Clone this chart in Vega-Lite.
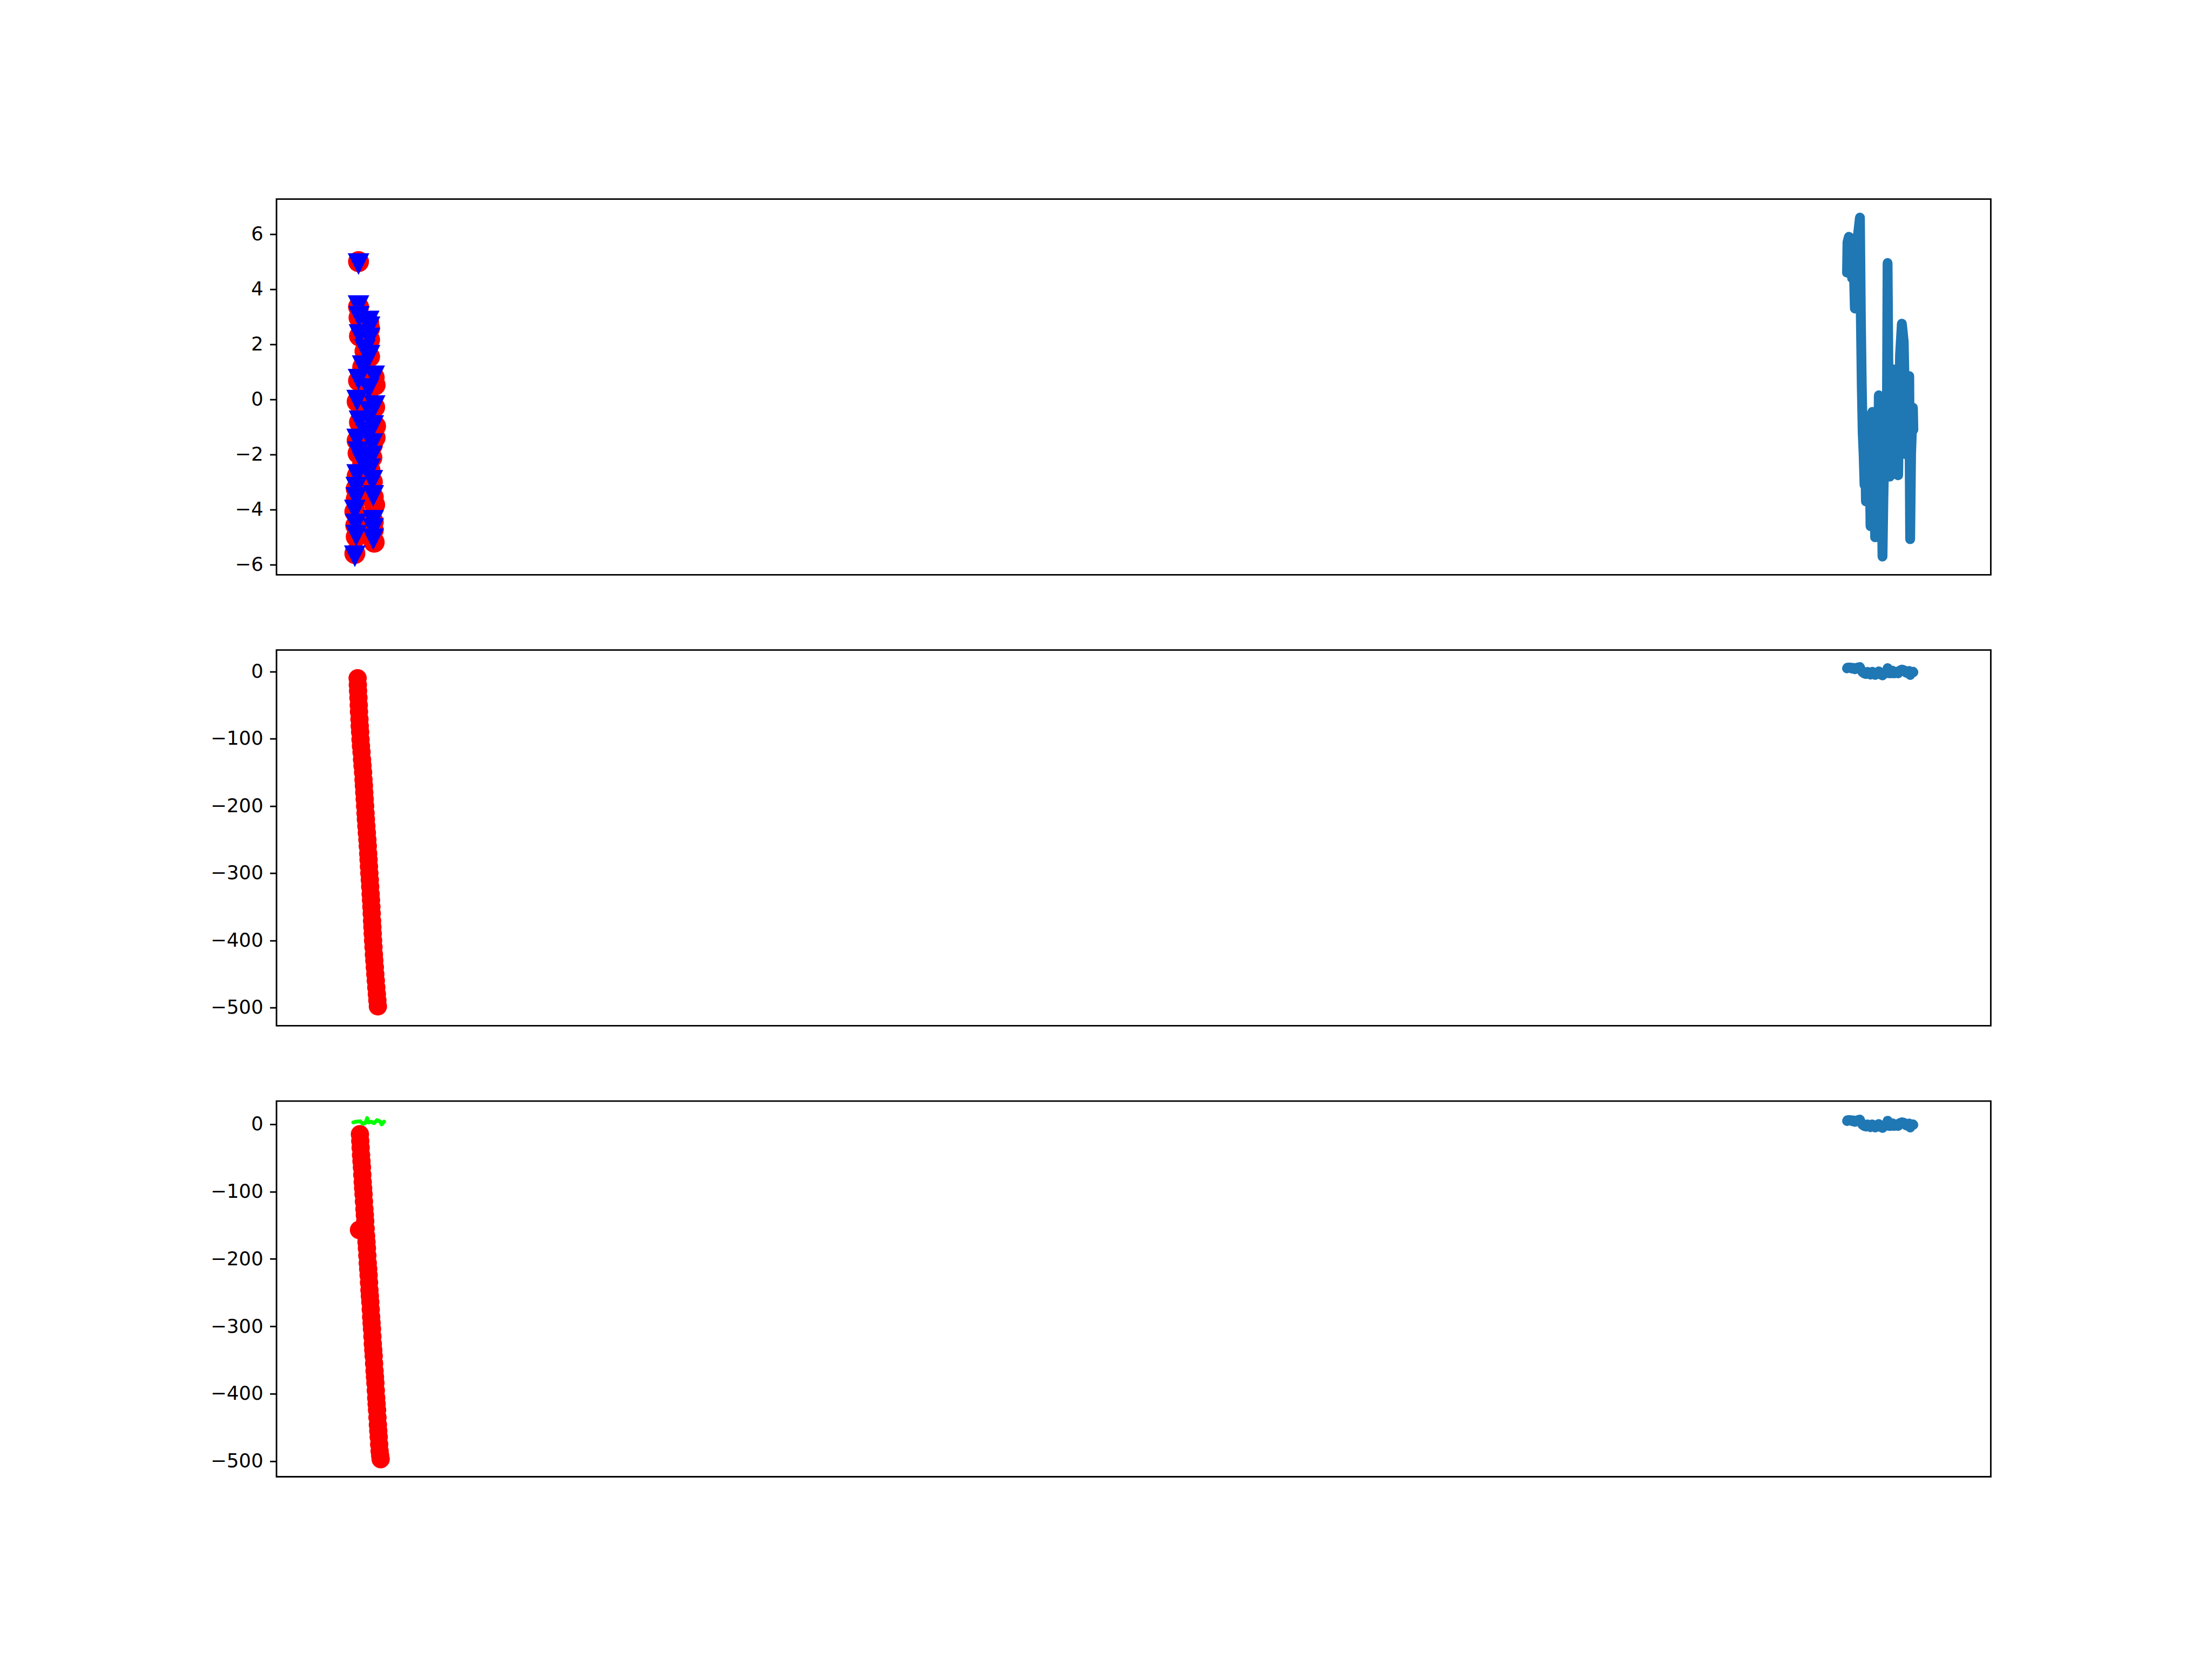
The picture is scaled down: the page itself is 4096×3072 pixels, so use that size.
{
  "$schema": "https://vega.github.io/schema/vega-lite/v6.json",
  "autosize": {"type": "none"},
  "padding": {"left": 512, "top": 368.6, "right": 409.6, "bottom": 2703.4},
  "background": "white",
  "bounds": "flush",
  "spacing": 139.1,
  "config": {
    "view": {"stroke": "black", "strokeWidth": 2.84},
    "axis": {"domain": false, "grid": false, "ticks": true, "tickSize": 12.44, "tickWidth": 2.84, "tickColor": "black", "labelFont": "DejaVu Sans", "labelFontSize": 35.6, "labelColor": "black", "labelPadding": 12.44, "title": null, "labelExpr": "replace(datum.label, '-', '\u2212')"}
  },
  "datasets": {
    "blue": [
      {"i":1,"x":4008,"y":4.6},{"i":2,"x":4009,"y":5.7},{"i":3,"x":4012,"y":5.9},{"i":4,"x":4016,"y":5.85},{"i":5,"x":4019,"y":4.4},{"i":6,"x":4022,"y":5.3},{"i":7,"x":4025,"y":3.3},{"i":8,"x":4028,"y":5.0},{"i":9,"x":4032,"y":6.0},{"i":10,"x":4036,"y":6.6},{"i":11,"x":4038,"y":3.0},{"i":12,"x":4040,"y":0.5},{"i":13,"x":4042,"y":-1.2},{"i":14,"x":4044,"y":-2.0},{"i":15,"x":4046,"y":-3.1},{"i":16,"x":4047,"y":-1.0},{"i":17,"x":4049,"y":-3.7},{"i":18,"x":4051,"y":-1.8},{"i":19,"x":4053,"y":-0.6},{"i":20,"x":4055,"y":-3.0},{"i":21,"x":4057,"y":-2.0},{"i":22,"x":4059,"y":-4.6},{"i":23,"x":4061,"y":-2.5},{"i":24,"x":4063,"y":-0.45},{"i":25,"x":4065,"y":-3.5},{"i":26,"x":4067,"y":-2.0},{"i":27,"x":4069,"y":-5.0},{"i":28,"x":4071,"y":-3.2},{"i":29,"x":4073,"y":-1.5},{"i":30,"x":4075,"y":-3.8},{"i":31,"x":4077,"y":0.15},{"i":32,"x":4079,"y":-2.5},{"i":33,"x":4081,"y":-4.0},{"i":34,"x":4083,"y":-3.0},{"i":35,"x":4085,"y":-5.7},{"i":36,"x":4087,"y":-3.5},{"i":37,"x":4089,"y":-2.0},{"i":38,"x":4092,"y":-1.0},{"i":39,"x":4094,"y":-2.5},{"i":40,"x":4096,"y":4.95},{"i":41,"x":4099,"y":-1.5},{"i":42,"x":4101,"y":-2.8},{"i":43,"x":4103,"y":-0.8},{"i":44,"x":4105,"y":-2.6},{"i":45,"x":4107,"y":1.1},{"i":46,"x":4109,"y":-1.5},{"i":47,"x":4111,"y":-2.7},{"i":48,"x":4113,"y":-1.0},{"i":49,"x":4115,"y":-0.5},{"i":50,"x":4117,"y":-2.2},{"i":51,"x":4119,"y":-2.75},{"i":52,"x":4121,"y":-0.5},{"i":53,"x":4123,"y":1.6},{"i":54,"x":4127,"y":2.75},{"i":55,"x":4131,"y":2.1},{"i":56,"x":4133,"y":0.5},{"i":57,"x":4135,"y":-1.0},{"i":58,"x":4137,"y":-2.0},{"i":59,"x":4139,"y":-0.5},{"i":60,"x":4143,"y":0.85},{"i":61,"x":4145,"y":-5.07},{"i":62,"x":4147,"y":-2.0},{"i":63,"x":4149,"y":-1.0},{"i":64,"x":4151,"y":-0.3},{"i":65,"x":4152,"y":-1.1}
    ],
    "circles1": [
      {"x":778,"y":5.0},{"x":778,"y":3.36},{"x":779,"y":2.97},{"x":800,"y":2.8},{"x":802,"y":2.58},{"x":780,"y":2.3},{"x":802,"y":2.17},{"x":792,"y":1.75},{"x":802,"y":1.55},{"x":787,"y":1.17},{"x":812,"y":0.8},{"x":778,"y":0.68},{"x":800,"y":0.34},{"x":775,"y":-0.08},{"x":814,"y":0.52},{"x":813,"y":-0.28},{"x":803,"y":-0.49},{"x":780,"y":-0.83},{"x":815,"y":-0.97},{"x":810,"y":-1.0},{"x":797,"y":-1.24},{"x":775,"y":-1.49},{"x":814,"y":-1.39},{"x":808,"y":-1.66},{"x":777,"y":-1.95},{"x":807,"y":-2.11},{"x":787,"y":-2.32},{"x":803,"y":-2.57},{"x":775,"y":-2.78},{"x":808,"y":-2.99},{"x":773,"y":-3.24},{"x":810,"y":-3.54},{"x":773,"y":-3.61},{"x":813,"y":-3.82},{"x":770,"y":-4.07},{"x":810,"y":-4.44},{"x":772,"y":-4.57},{"x":810,"y":-4.74},{"x":773,"y":-4.98},{"x":812,"y":-5.18},{"x":770,"y":-5.59}
    ],
    "tris1": [
      {"x":778,"y":4.91},{"x":778,"y":3.39},{"x":779,"y":3.0},{"x":800,"y":2.83},{"x":802,"y":2.62},{"x":780,"y":2.34},{"x":802,"y":2.21},{"x":792,"y":1.79},{"x":802,"y":1.59},{"x":787,"y":1.21},{"x":812,"y":0.84},{"x":778,"y":0.72},{"x":800,"y":0.38},{"x":775,"y":-0.04},{"x":813,"y":-0.24},{"x":803,"y":-0.45},{"x":780,"y":-0.79},{"x":810,"y":-0.96},{"x":797,"y":-1.2},{"x":775,"y":-1.45},{"x":808,"y":-1.62},{"x":777,"y":-1.91},{"x":807,"y":-2.07},{"x":787,"y":-2.28},{"x":803,"y":-2.53},{"x":775,"y":-2.74},{"x":808,"y":-2.95},{"x":773,"y":-3.2},{"x":810,"y":-3.5},{"x":773,"y":-3.57},{"x":770,"y":-4.03},{"x":810,"y":-4.4},{"x":772,"y":-4.53},{"x":810,"y":-4.7},{"x":773,"y":-4.94},{"x":810,"y":-5.07},{"x":770,"y":-5.69}
    ],
    "red2": [
      {"x":776,"y":-10},{"x":776.5,"y":-20},{"x":777,"y":-29},{"x":777.8,"y":-39},{"x":778.5,"y":-50},{"x":779,"y":-60},{"x":780,"y":-71},{"x":780.6,"y":-81},{"x":781.5,"y":-90},{"x":782.3,"y":-101},{"x":783.3,"y":-111},{"x":784.5,"y":-120},{"x":785.6,"y":-131},{"x":786.6,"y":-140},{"x":787.9,"y":-150},{"x":788.8,"y":-161},{"x":789.7,"y":-170},{"x":790.5,"y":-180},{"x":791.4,"y":-190},{"x":792.3,"y":-200},{"x":793.2,"y":-211},{"x":794,"y":-220},{"x":795,"y":-230},{"x":796.1,"y":-240},{"x":797.2,"y":-250},{"x":798.1,"y":-260},{"x":799,"y":-271},{"x":799.8,"y":-280},{"x":800.6,"y":-290},{"x":801.5,"y":-300},{"x":802.5,"y":-310},{"x":803.3,"y":-320},{"x":804.3,"y":-331},{"x":805.1,"y":-340},{"x":805.9,"y":-350},{"x":806.6,"y":-360},{"x":807.4,"y":-371},{"x":808.1,"y":-380},{"x":808.8,"y":-390},{"x":809.6,"y":-400},{"x":810.5,"y":-410},{"x":811.4,"y":-421},{"x":812.3,"y":-430},{"x":813.4,"y":-440},{"x":814.4,"y":-450},{"x":815.5,"y":-460},{"x":816.6,"y":-470},{"x":817.8,"y":-480},{"x":818.9,"y":-489},{"x":820,"y":-498}
    ],
    "red3": [
      {"x":781,"y":-15},{"x":781.8,"y":-25},{"x":782.6,"y":-35},{"x":783.5,"y":-46},{"x":784.4,"y":-55},{"x":785.4,"y":-64},{"x":786.2,"y":-75},{"x":787.1,"y":-86},{"x":788,"y":-95},{"x":788.9,"y":-104},{"x":789.8,"y":-115},{"x":790.8,"y":-126},{"x":791.7,"y":-135},{"x":792.5,"y":-144},{"x":793.4,"y":-155},{"x":794.4,"y":-166},{"x":795.3,"y":-175},{"x":796.2,"y":-184},{"x":797.1,"y":-195},{"x":798,"y":-206},{"x":799,"y":-215},{"x":799.9,"y":-224},{"x":800.8,"y":-235},{"x":801.7,"y":-246},{"x":802.6,"y":-255},{"x":803.6,"y":-264},{"x":804.5,"y":-275},{"x":805.4,"y":-286},{"x":806.3,"y":-295},{"x":807.2,"y":-304},{"x":808.1,"y":-315},{"x":809,"y":-326},{"x":810,"y":-335},{"x":810.9,"y":-344},{"x":811.8,"y":-355},{"x":812.8,"y":-366},{"x":813.7,"y":-375},{"x":814.6,"y":-384},{"x":815.5,"y":-395},{"x":816.4,"y":-406},{"x":817.3,"y":-415},{"x":818.2,"y":-424},{"x":819.1,"y":-435},{"x":820,"y":-446},{"x":820.9,"y":-455},{"x":821.8,"y":-464},{"x":822.8,"y":-475},{"x":823.8,"y":-485},{"x":825,"y":-492},{"x":826,"y":-497},{"x":779,"y":-157}
    ],
    "green3": [
      {"i":1,"x":766.7,"y":2.5},{"i":2,"x":773,"y":3.6},{"i":3,"x":781.7,"y":4.1},{"i":4,"x":788,"y":0.3},{"i":5,"x":793,"y":1.8},{"i":6,"x":796.7,"y":8.9},{"i":7,"x":800,"y":2.5},{"i":8,"x":805,"y":3.6},{"i":9,"x":811.7,"y":1.4},{"i":10,"x":818.3,"y":5.9},{"i":11,"x":825,"y":3.6},{"i":12,"x":828.3,"y":-0.4},{"i":13,"x":833.3,"y":3.6}
    ]
  },
  "vconcat": [
    {
      "width": 3174.4,
      "height": 695.7,
      "layer": [
        {
          "data": {"name": "circles1"},
          "mark": {"type": "point", "shape": "circle", "filled": true, "color": "#ff0000", "size": 1506, "opacity": 1},
          "encoding": {
            "x": {"field": "x", "type": "quantitative", "scale": {"domain": [600, 4320], "nice": false, "zero": false}, "axis": null},
            "y": {"field": "y", "type": "quantitative", "scale": {"domain": [-6.36, 7.27], "nice": false, "zero": false}, "axis": {"values": [-6, -4, -2, 0, 2, 4, 6], "format": "d"}}
          }
        },
        {
          "data": {"name": "tris1"},
          "mark": {"type": "point", "shape": "M-1,-1L1,-1L0,1Z", "filled": true, "color": "#0000ff", "size": 1600, "opacity": 1},
          "encoding": {
            "x": {"field": "x", "type": "quantitative"},
            "y": {"field": "y", "type": "quantitative"}
          }
        },
        {
          "data": {"name": "blue"},
          "mark": {"type": "line", "color": "#1f77b4", "strokeWidth": 18.3, "strokeCap": "round", "strokeJoin": "round"},
          "encoding": {
            "x": {"field": "x", "type": "quantitative"},
            "y": {"field": "y", "type": "quantitative"},
            "order": {"field": "i", "type": "quantitative"}
          }
        }
      ]
    },
    {
      "width": 3174.4,
      "height": 695.7,
      "layer": [
        {
          "data": {"name": "red2"},
          "mark": {"type": "point", "shape": "circle", "filled": true, "color": "#ff0000", "size": 1150, "opacity": 1},
          "encoding": {
            "x": {"field": "x", "type": "quantitative", "scale": {"domain": [600, 4320], "nice": false, "zero": false}, "axis": null},
            "y": {"field": "y", "type": "quantitative", "scale": {"domain": [-526.9, 31.9], "nice": false, "zero": false}, "axis": {"values": [-500, -400, -300, -200, -100, 0], "format": "d"}}
          }
        },
        {
          "data": {"name": "blue"},
          "mark": {"type": "line", "color": "#1f77b4", "strokeWidth": 18.3, "strokeCap": "round", "strokeJoin": "round"},
          "encoding": {
            "x": {"field": "x", "type": "quantitative"},
            "y": {"field": "y", "type": "quantitative"},
            "order": {"field": "i", "type": "quantitative"}
          }
        }
      ]
    },
    {
      "width": 3174.4,
      "height": 695.7,
      "layer": [
        {
          "data": {"name": "red3"},
          "mark": {"type": "point", "shape": "circle", "filled": true, "color": "#ff0000", "size": 1150, "opacity": 1},
          "encoding": {
            "x": {"field": "x", "type": "quantitative", "scale": {"domain": [600, 4320], "nice": false, "zero": false}, "axis": null},
            "y": {"field": "y", "type": "quantitative", "scale": {"domain": [-523.0, 34.2], "nice": false, "zero": false}, "axis": {"values": [-500, -400, -300, -200, -100, 0], "format": "d"}}
          }
        },
        {
          "data": {"name": "green3"},
          "mark": {"type": "line", "color": "#00ff00", "strokeWidth": 7.1, "strokeCap": "round", "strokeJoin": "round"},
          "encoding": {
            "x": {"field": "x", "type": "quantitative"},
            "y": {"field": "y", "type": "quantitative"},
            "order": {"field": "i", "type": "quantitative"}
          }
        },
        {
          "data": {"name": "blue"},
          "mark": {"type": "line", "color": "#1f77b4", "strokeWidth": 18.3, "strokeCap": "round", "strokeJoin": "round"},
          "encoding": {
            "x": {"field": "x", "type": "quantitative"},
            "y": {"field": "y", "type": "quantitative"},
            "order": {"field": "i", "type": "quantitative"}
          }
        }
      ]
    }
  ]
}
